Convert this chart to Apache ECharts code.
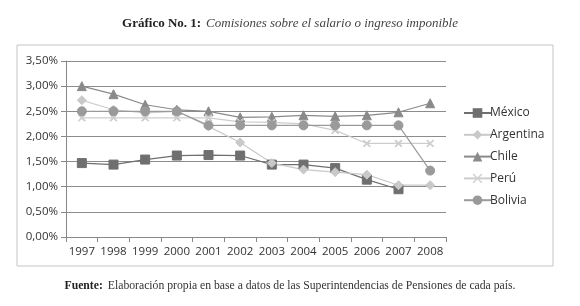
<!DOCTYPE html>
<html>
<head>
<meta charset="utf-8">
<script src="https://cdn.jsdelivr.net/npm/echarts@6/dist/echarts.min.js"></script>
<style>
  html, body { margin: 0; padding: 0; background: #fff; }
  #chart { width: 580px; height: 306px; }
</style>
</head>
<body>
<div id="chart"></div>
<script>
const years = ['1997', '1998', '1999', '2000', '2001', '2002', '2003', '2004', '2005', '2006', '2007', '2008'];

const mexico    = [1.47, 1.44, 1.54, 1.62, 1.63, 1.62, 1.44, 1.44, 1.37, 1.14, 0.95, null];
const argentina = [2.72, 2.53, 2.47, 2.50, 2.20, 1.88, 1.47, 1.34, 1.29, 1.24, 1.03, 1.03];
const chile     = [3.00, 2.84, 2.63, 2.53, 2.50, 2.38, 2.39, 2.42, 2.40, 2.42, 2.48, 2.66];
const peru      = [2.37, 2.37, 2.37, 2.37, 2.37, 2.29, 2.28, 2.25, 2.12, 1.86, 1.86, 1.86];
const bolivia   = [2.50, 2.50, 2.50, 2.50, 2.22, 2.22, 2.22, 2.22, 2.22, 2.22, 2.22, 1.32];

const yTicks = [0, 0.5, 1, 1.5, 2, 2.5, 3, 3.5];

const crossPath = 'path://M0,1 L1,0 L5,4 L9,0 L10,1 L6,5 L10,9 L9,10 L5,6 L1,10 L0,9 L4,5 Z';

function line(name, data, color, symbol, size, width) {
  return {
    name: name,
    type: 'line',
    data: data,
    symbol: symbol,
    symbolSize: size,
    showAllSymbol: true,
    connectNulls: false,
    lineStyle: { color: color, width: width || 1.2 },
    itemStyle: { color: color, borderColor: color },
    emphasis: { disabled: true },
    animation: false
  };
}

const chart = echarts.init(document.getElementById('chart'), null, { renderer: 'canvas' });

chart.setOption({
  backgroundColor: '#ffffff',
  animation: false,
  title: [
    {
      text: '{b|Gráfico No. 1:} {i|Comisiones sobre el salario o ingreso imponible}',
      left: 'center',
      top: 10,
      textStyle: {
        fontWeight: 'normal',
        rich: {
          b: { fontFamily: 'Liberation Serif', fontWeight: 'bold', fontSize: 13, color: '#222' },
          i: { fontFamily: 'Liberation Serif', fontStyle: 'italic', fontWeight: 'normal', fontSize: 13, color: '#444' }
        }
      }
    },
    {
      text: '{b|Fuente:} {r|Elaboración propia en base a datos de las Superintendencias de Pensiones de cada país.}',
      left: 'center',
      top: 272,
      textStyle: {
        fontWeight: 'normal',
        rich: {
          b: { fontFamily: 'Liberation Serif', fontWeight: 'bold', fontSize: 11.7, color: '#222' },
          r: { fontFamily: 'Liberation Serif', fontWeight: 'normal', fontSize: 11.7, color: '#333' }
        }
      }
    }
  ],
  graphic: [
    {
      type: 'rect',
      shape: { x: 17, y: 45, width: 536, height: 221 },
      style: { fill: 'none', stroke: '#c4c4c4', lineWidth: 1 },
      silent: true
    }
  ],
  legend: {
    orient: 'vertical',
    left: 458,
    top: 102,
    itemGap: 9.8,
    itemWidth: 27,
    itemHeight: 12,
    textStyle: { fontFamily: 'Open Sans', fontSize: 12, color: '#333', padding: [0, 0, 0, -6] },
    data: ['México', 'Argentina', 'Chile', 'Perú', 'Bolivia']
  },
  grid: { left: 66, right: 134, top: 61, bottom: 69, containLabel: false },
  xAxis: {
    type: 'category',
    data: years,
    boundaryGap: true,
    axisLine: { lineStyle: { color: '#888' } },
    axisTick: { show: true, interval: 0, alignWithLabel: false, lineStyle: { color: '#888' } },
    axisLabel: { interval: 0, fontFamily: 'Open Sans', fontSize: 11.5, color: '#333', margin: 9 }
  },
  yAxis: {
    type: 'value',
    min: 0,
    max: 3.5,
    interval: 0.5,
    axisLine: { show: true, lineStyle: { color: '#888' } },
    axisTick: { show: true, lineStyle: { color: '#888' } },
    splitLine: { lineStyle: { color: '#8c8c8c', width: 1 } },
    axisLabel: {
      fontFamily: 'Open Sans',
      fontSize: 11.5,
      color: '#333',
      margin: 8,
      formatter: function (v) {
        return yTicks.indexOf(v) >= 0 ? v.toFixed(2).replace('.', ',') + '%' : '';
      }
    }
  },
  series: [
    line('México', mexico, '#6f6f6f', 'rect', 9),
    line('Argentina', argentina, '#c9c9c9', 'diamond', 9),
    line('Chile', chile, '#8a8a8a', 'triangle', 9),
    line('Perú', peru, '#cdcdcd', crossPath, 7),
    line('Bolivia', bolivia, '#9a9a9a', 'circle', 9)
  ]
});
</script>
</body>
</html>
